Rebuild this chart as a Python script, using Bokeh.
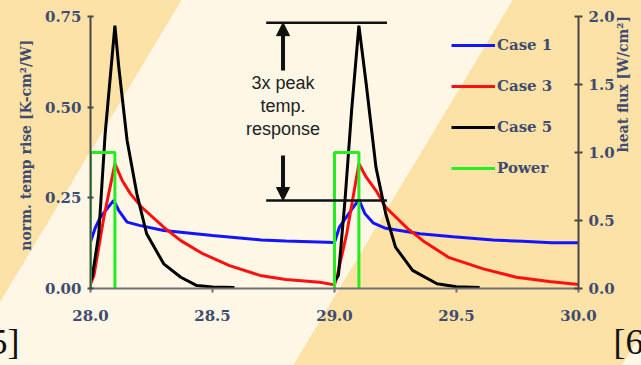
from bokeh.plotting import figure
from bokeh.models import (Range1d, LinearAxis, FixedTicker, PrintfTickFormatter,
                          Legend, LegendItem, Label, Arrow, NormalHead)
from bokeh.embed import file_html
from bokeh.resources import INLINE
import math

# ---------------- data ----------------
case1_t = [28.0, 28.02, 28.04, 28.095, 28.116, 28.15, 28.2, 28.3, 28.4, 28.5, 28.6, 28.7,
           28.8, 28.9, 29.0, 29.02, 29.077, 29.1, 29.125, 29.16, 29.21, 29.35, 29.486,
           29.65, 29.77, 29.89, 30.0]
case1_v = [0.128, 0.168, 0.196, 0.243, 0.215, 0.183, 0.174, 0.160, 0.153, 0.146, 0.140, 0.134,
           0.131, 0.129, 0.127, 0.169, 0.224, 0.245, 0.206, 0.180, 0.166, 0.151, 0.143,
           0.134, 0.130, 0.126, 0.126]

case3_t = [28.0, 28.014, 28.055, 28.1, 28.13, 28.164, 28.21, 28.30, 28.37, 28.46, 28.57, 28.695,
           28.8, 28.94, 29.0, 29.01, 29.05, 29.1, 29.13, 29.17, 29.21, 29.3, 29.37, 29.47,
           29.61, 29.745, 29.88, 30.0]
case3_v = [0.012, 0.036, 0.197, 0.344, 0.298, 0.261, 0.224, 0.169, 0.132, 0.096, 0.063, 0.036,
           0.025, 0.017, 0.010, 0.031, 0.151, 0.344, 0.307, 0.270, 0.224, 0.165, 0.128, 0.085,
           0.054, 0.031, 0.019, 0.011]

case5a_t = [28.0, 28.007, 28.034, 28.06, 28.1, 28.116, 28.15, 28.19, 28.23, 28.30, 28.37,
            28.436, 28.5, 28.59]
case5a_v = [0.020, 0.031, 0.151, 0.426, 0.725, 0.610, 0.408, 0.261, 0.151, 0.068, 0.031,
            0.008, 0.004, 0.003]
case5b_t = [29.0, 29.016, 29.043, 29.07, 29.1, 29.13, 29.17, 29.21, 29.25, 29.32, 29.42,
            29.5, 29.595]
case5b_v = [0.020, 0.036, 0.243, 0.490, 0.725, 0.564, 0.334, 0.206, 0.114, 0.050, 0.013,
            0.005, 0.003]

pulse_start = [28.0, 29.0]
pulse_end = [28.1, 29.1]
pulse_level = [1.0, 1.0]

x_ticks = [28.0, 28.5, 29.0, 29.5, 30.0]
left_ticks = [0.0, 0.25, 0.5, 0.75]
right_ticks = [0.0, 0.5, 1.0, 1.5, 2.0]

peak_high = 0.733
peak_low = 0.2426

NB = "\u00a0"
left_title = NB * 3 + "norm. temp rise [K-cm²/W]"
right_title = "heat flux [W/cm²]"
cite_text = "5]" + NB * 66 + "[6" + NB * 4

# ---------------- style ----------------
ORANGE = "#FCE2A6"
CREAM = "#FEF7E5"
TXT = "#414b70"
SERIF = "DejaVu Serif"

p = figure(width=641, height=365, x_range=Range1d(28, 30), y_range=Range1d(0, 0.75),
           output_backend="svg", toolbar_location=None,
           min_border_left=90, min_border_right=62, min_border_top=16, min_border_bottom=77,
           background_fill_color=None, border_fill_color=None, outline_line_color=None)
p.styles = {"background": (f"linear-gradient(121deg, {ORANGE} 0%, {ORANGE} 21.1%, {CREAM} 21.1%, "
                           f"{CREAM} 59.6%, {ORANGE} 59.6%, {ORANGE} 97.8%, {CREAM} 97.8%, {CREAM} 100%)")}
p.xgrid.visible = False
p.ygrid.visible = False
p.extra_y_ranges = {"flux": Range1d(0, 2)}

def style_axis(ax, ticks, fmt, tin, tout, color, standoff):
    ax.ticker = FixedTicker(ticks=ticks)
    ax.formatter = PrintfTickFormatter(format=fmt)
    ax.axis_line_color = color
    ax.axis_line_width = 2
    ax.major_tick_line_color = color
    ax.major_tick_line_width = 2
    ax.major_tick_in = tin
    ax.major_tick_out = tout
    ax.minor_tick_line_color = None
    ax.major_label_text_font = SERIF
    ax.major_label_text_font_style = "bold"
    ax.major_label_text_font_size = "15px"
    ax.major_label_text_color = TXT
    ax.major_label_standoff = standoff

def style_title(ax, text, standoff):
    ax.axis_label = text
    ax.axis_label_standoff = standoff
    ax.axis_label_text_font = SERIF
    ax.axis_label_text_font_style = "bold"
    ax.axis_label_text_font_size = "14px"
    ax.axis_label_text_color = TXT

xax = p.xaxis[0]
style_axis(xax, x_ticks, "%.1f", 0, 4, "#707070", 17)
xax.axis_label = cite_text
xax.axis_label_standoff = -2
xax.axis_label_text_font = "Liberation Serif"
xax.axis_label_text_font_style = "normal"
xax.axis_label_text_font_size = "36px"
xax.axis_label_text_color = "#111111"

yax = p.yaxis[0]
style_axis(yax, left_ticks, "%.2f", 3, 3, "#484848", 6)
style_title(yax, left_title, 8)

right = LinearAxis(y_range_name="flux")
style_axis(right, right_ticks, "%.1f", 4, 4, "#484848", 6)
style_title(right, right_title, 5)
try:
    right.axis_label_orientation = math.pi / 2
except Exception:
    pass
p.add_layout(right, "right")

# ---------------- series ----------------
r1 = p.line(case1_t, case1_v, line_color="#1414ff", line_width=3)
r3 = p.line(case3_t, case3_v, line_color="#ff1010", line_width=3)
r5 = p.multi_line([case5a_t, case5b_t], [case5a_v, case5b_v], line_color="#000000", line_width=3)
pxs = [[s, s, e, e] for s, e in zip(pulse_start, pulse_end)]
pys = [[0, lv, lv, 0] for lv in pulse_level]
rp = p.multi_line(pxs, pys, line_color="#22ee22", line_width=3, y_range_name="flux")

# annotation
p.segment(x0=[28.72, 28.72], y0=[peak_high, peak_low], x1=[29.215, 29.215], y1=[peak_high, peak_low],
          line_color="#111111", line_width=2.5)
xa = 28.789
p.add_layout(Arrow(end=NormalHead(size=13, fill_color="#111111", line_color="#111111"),
                   x_start=xa, y_start=0.601, x_end=xa, y_end=peak_high,
                   line_color="#111111", line_width=4))
p.add_layout(Arrow(end=NormalHead(size=13, fill_color="#111111", line_color="#111111"),
                   x_start=xa, y_start=0.367, x_end=xa, y_end=peak_low,
                   line_color="#111111", line_width=4))
for txt, yy in [("3x peak", 0.568), ("temp.", 0.5045), ("response", 0.441)]:
    p.add_layout(Label(x=xa, y=yy, text=txt, text_align="center", text_baseline="middle",
                       text_font="Liberation Sans", text_font_size="18px", text_color="#222222"))

# legend
legend = Legend(items=[LegendItem(label="Case 1", renderers=[r1]),
                       LegendItem(label="Case 3", renderers=[r3]),
                       LegendItem(label="Case 5", renderers=[r5]),
                       LegendItem(label="Power", renderers=[rp])],
                location=(361, 110), glyph_width=44, glyph_height=20, label_height=20,
                spacing=21, padding=0, margin=0, label_standoff=2,
                background_fill_alpha=0, border_line_color=None,
                label_text_font=SERIF, label_text_font_style="bold",
                label_text_font_size="15px", label_text_color=TXT)
p.add_layout(legend)

open("out.html", "w").write(file_html(p, INLINE))
